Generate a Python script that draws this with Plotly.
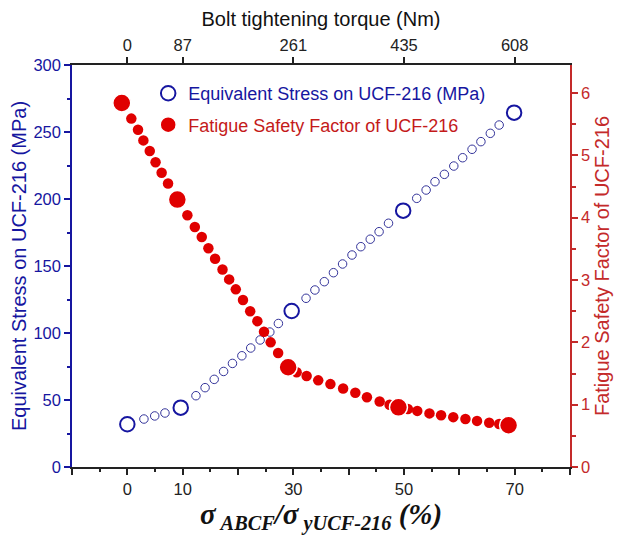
import plotly.graph_objects as go

# ---------------- data ----------------
ratio_ticks = [0, 10, 30, 50, 70]
torque_labels = ["0", "87", "261", "435", "608"]

# Equivalent stress (MPa) - dense small markers
stress_x = [3.0, 4.95, 6.8, 12.4, 14.05, 15.7, 17.4, 19.0, 20.7, 22.3, 24.0,
            25.75, 27.3, 32.3, 33.9, 35.6, 37.25, 38.9, 40.6, 42.2, 43.9, 45.5,
            47.2, 52.3, 54.0, 55.6, 57.3, 59.0, 60.6, 62.3, 63.9, 65.6, 67.2]
stress_y = [35.8, 38.1, 40.3, 53.2, 59.2, 65.4, 71.3, 77.3, 83.0, 88.8, 94.8,
            100.7, 107.1, 125.9, 132.1, 138.3, 145.0, 151.5, 158.2, 164.4, 170.0,
            175.6, 181.9, 200.5, 206.7, 212.9, 218.4, 224.6, 230.8, 237.1, 242.8,
            249.0, 255.2]
# Equivalent stress - key (large) markers
stress_key_x = [0.0, 9.65, 29.7, 49.85, 69.9]
stress_key_y = [31.9, 44.3, 116.4, 191.3, 264.4]

# Fatigue safety factor - dense small markers
fatigue_x = [0.72, 1.93, 2.9, 4.05, 5.1, 6.2, 7.36, 10.85, 12.2, 13.45, 14.65,
             15.86, 17.2, 18.4, 19.6, 20.9, 22.2, 23.5, 24.7, 25.9, 27.25, 30.6,
             32.4, 34.5, 36.7, 39.0, 41.2, 43.3, 45.6, 47.4, 50.7, 52.4, 54.6,
             56.7, 58.9, 61.1, 63.2, 65.4, 67.2]
fatigue_y = [5.59, 5.41, 5.24, 5.07, 4.89, 4.72, 4.55, 4.04, 3.85, 3.69, 3.51,
             3.34, 3.17, 3.01, 2.85, 2.68, 2.50, 2.34, 2.17, 2.00, 1.83, 1.52,
             1.46, 1.39, 1.33, 1.26, 1.19, 1.12, 1.05, 1.00, 0.93, 0.90, 0.86,
             0.83, 0.80, 0.77, 0.74, 0.71, 0.69]
# Fatigue safety factor - key (large) markers
fatigue_key_x = [-1.0, 9.04, 29.06, 49.0, 68.9]
fatigue_key_y = [5.84, 4.29, 1.60, 0.957, 0.67]

# ---------------- styling ----------------
BLUE = "#1616a0"
BLUE_LIGHT = "#34349a"
RED = "#e00000"
RED_AX = "#c42a2a"
RED_TXT = "#c41a1a"
SANS = "Liberation Sans, Arial, sans-serif"
SERIF = "Liberation Serif, Times New Roman, serif"
TICK = 16.5
TITLE = 20

fig = go.Figure()

fig.add_trace(go.Scatter(
    x=stress_x, y=stress_y, mode="markers", showlegend=False,
    marker=dict(symbol="circle-open", size=8.5, color=BLUE_LIGHT,
                line=dict(width=1, color=BLUE_LIGHT)),
    xaxis="x", yaxis="y"))
fig.add_trace(go.Scatter(
    x=stress_key_x, y=stress_key_y, mode="markers",
    name=f"<span style='color:{BLUE}'>Equivalent Stress on UCF-216 (MPa)</span>",
    legendgroup="a",
    marker=dict(symbol="circle-open", size=14.5, color=BLUE,
                line=dict(width=2, color=BLUE)),
    xaxis="x", yaxis="y"))

fig.add_trace(go.Scatter(
    x=fatigue_x, y=fatigue_y, mode="markers", showlegend=False,
    marker=dict(symbol="circle", size=10.5, color=RED, line=dict(width=0)),
    xaxis="x2", yaxis="y2"))
fig.add_trace(go.Scatter(
    x=fatigue_key_x, y=fatigue_key_y, mode="markers",
    name=f"<span style='color:{RED_TXT}'>Fatigue Safety Factor of UCF-216</span>",
    legendgroup="b",
    marker=dict(symbol="circle", size=18, color=RED,
                line=dict(width=1.5, color="white")),
    xaxis="x2", yaxis="y2"))

bottom_vals = [-10, 0, 10, 20, 30, 40, 50, 60, 70, 80]
bottom_text = ["" if v not in ratio_ticks else str(v) for v in bottom_vals]

# the page body adds an 8px offset, so the figure is 8px smaller than the window
fig.update_layout(
    width=617, height=527,
    margin=dict(l=64, r=55, t=57, b=68, autoexpand=False),
    paper_bgcolor="white", plot_bgcolor="white",
    font=dict(family=SANS, size=TICK, color="#222"),
    legend=dict(x=0.153, y=0.975, xanchor="left", yanchor="top",
                bgcolor="rgba(0,0,0,0)", font=dict(size=18, family=SANS),
                tracegroupgap=5, itemsizing="trace"),
    xaxis=dict(
        range=[-10, 80], tickmode="array", tickvals=bottom_vals, ticktext=bottom_text,
        ticks="outside", ticklen=6, tickwidth=1.5, tickcolor="#222",
        showline=True, linecolor="#222", linewidth=2,
        showgrid=False, zeroline=False,
        tickfont=dict(size=TICK, color="#222", family=SANS),
        minor=dict(tickmode="array", tickvals=[-5, 5, 15, 25, 35, 45, 55, 65, 75],
                   ticks="outside", ticklen=3, tickwidth=1.5, tickcolor="#222"),
        title=dict(text="<b><i>σ<sub> ABCF</sub>/σ<sub> yUCF-216</sub> (%)</i></b>",
                   font=dict(family=SERIF, size=29, color="#111"), standoff=12),
    ),
    xaxis2=dict(
        overlaying="x", side="top", anchor="y",
        range=[-10, 80], tickmode="array", tickvals=ratio_ticks, ticktext=torque_labels,
        ticks="outside", ticklen=6, tickwidth=1.5, tickcolor="#222",
        showline=True, linecolor="#222", linewidth=1.5,
        showgrid=False, zeroline=False,
        tickfont=dict(size=TICK, color="#222", family=SANS),
        title=dict(text="Bolt tightening torque (Nm)",
                   font=dict(size=TITLE, color="#111", family=SANS), standoff=8),
    ),
    yaxis=dict(
        range=[0, 300], tickmode="linear", tick0=0, dtick=50,
        ticks="outside", ticklen=6, tickwidth=1.5, tickcolor=BLUE,
        showline=True, linecolor=BLUE, linewidth=1.5,
        showgrid=False, zeroline=False,
        tickfont=dict(size=TICK, color=BLUE, family=SANS),
        minor=dict(dtick=25, ticks="outside", ticklen=3, tickwidth=1.5, tickcolor=BLUE),
        title=dict(text="Equivalent Stress on UCF-216 (MPa)",
                   font=dict(size=TITLE, color=BLUE, family=SANS), standoff=6),
    ),
    yaxis2=dict(
        overlaying="y", side="right", anchor="x2",
        range=[0, 6.45], tickmode="linear", tick0=0, dtick=1,
        ticks="outside", ticklen=6, tickwidth=1.5, tickcolor=RED_AX,
        showline=True, linecolor=RED_AX, linewidth=1.5,
        showgrid=False, zeroline=False,
        tickfont=dict(size=TICK, color=RED_AX, family=SANS),
        minor=dict(dtick=0.5, ticks="outside", ticklen=4, tickwidth=1.5, tickcolor=RED_AX),
        title=dict(text="Fatigue Safety Factor of UCF-216",
                   font=dict(size=TITLE, color=RED_AX, family=SANS), standoff=6),
    ),
)

fig.write_html("out.html")
